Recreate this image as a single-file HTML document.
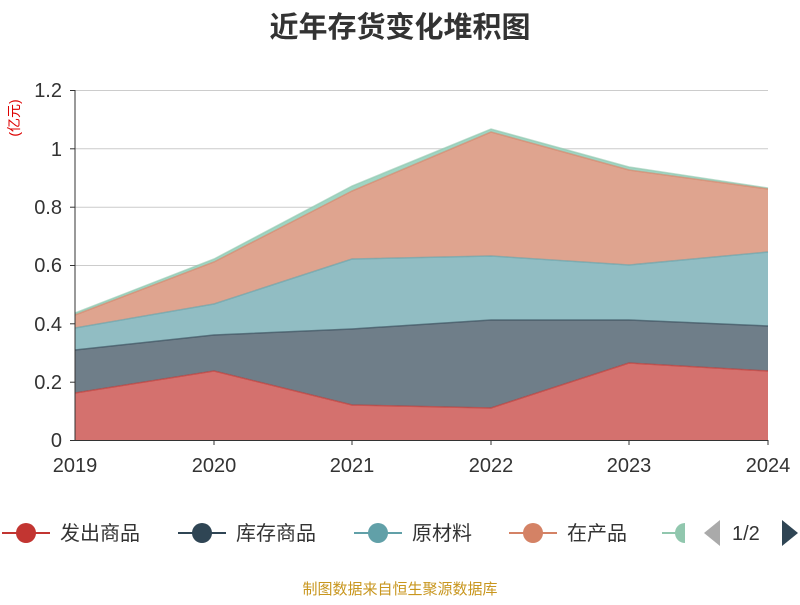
<!DOCTYPE html>
<html><head><meta charset="utf-8"><style>
body{margin:0;background:#fff;}
svg text{font-family:"Liberation Sans","Noto Sans CJK SC",sans-serif;}
</style></head><body>
<svg width="800" height="600" viewBox="0 0 800 600" xmlns="http://www.w3.org/2000/svg">
<rect width="800" height="600" fill="#fff"/>
<text x="400" y="37" text-anchor="middle" font-size="29" font-weight="bold" fill="#333">近年存货变化堆积图</text>
<text x="19" y="118" font-size="14" fill="#d00" text-anchor="middle" transform="rotate(-90 19 118)">(亿元)</text>
<g stroke="#ccc" stroke-width="1">
<line x1="75" y1="90.5" x2="768" y2="90.5"/><line x1="75" y1="148.8" x2="768" y2="148.8"/>
<line x1="75" y1="207.2" x2="768" y2="207.2"/><line x1="75" y1="265.5" x2="768" y2="265.5"/>
<line x1="75" y1="323.8" x2="768" y2="323.8"/><line x1="75" y1="382.2" x2="768" y2="382.2"/>
</g>
<polygon fill="#9fd5c3" points="75,313 214,259 352,186 491,129 629,167 768,188 768,189 629,170 491,132 352,191 214,262 75,315"/>
<polygon fill="#dfa48f" points="75,315 214,262 352,191 491,132 629,170 768,189 768,252 629,265 491,256 352,259 214,304 75,328"/>
<polygon fill="#91bdc3" points="75,328 214,304 352,259 491,256 629,265 768,252 768,326 629,320 491,320 352,329 214,335 75,350"/>
<polygon fill="#6f7e89" points="75,350 214,335 352,329 491,320 629,320 768,326 768,371 629,363 491,408 352,405 214,371 75,393"/>
<polygon fill="#d4716e" points="75,393 214,371 352,405 491,408 629,363 768,371 768,440 75,440"/>
<g fill="none" stroke-width="1.5" stroke-opacity="0.6">
<polyline stroke="#91c7ae" points="75,313 214,259 352,186 491,129 629,167 768,188"/>
<polyline stroke="#d48265" points="75,315 214,262 352,191 491,132 629,170 768,189"/>
<polyline stroke="#61a0a8" points="75,328 214,304 352,259 491,256 629,265 768,252"/>
<polyline stroke="#2f4554" points="75,350 214,335 352,329 491,320 629,320 768,326"/>
<polyline stroke="#c23531" points="75,393 214,371 352,405 491,408 629,363 768,371"/>
</g>
<line x1="75" y1="90" x2="75" y2="440" stroke="#333"/>
<line x1="75" y1="440.5" x2="768" y2="440.5" stroke="#333"/>
<g stroke="#333"><line x1="70" y1="90.5" x2="75" y2="90.5"/><line x1="70" y1="148.8" x2="75" y2="148.8"/><line x1="70" y1="207.2" x2="75" y2="207.2"/><line x1="70" y1="265.5" x2="75" y2="265.5"/><line x1="70" y1="323.8" x2="75" y2="323.8"/><line x1="70" y1="382.2" x2="75" y2="382.2"/><line x1="70" y1="440.5" x2="75" y2="440.5"/>
<line x1="214" y1="440" x2="214" y2="445"/><line x1="352" y1="440" x2="352" y2="445"/><line x1="491" y1="440" x2="491" y2="445"/><line x1="629" y1="440" x2="629" y2="445"/><line x1="768" y1="440" x2="768" y2="445"/></g>
<g font-size="20" fill="#333" text-anchor="end">
<text x="62" y="97">1.2</text><text x="62" y="156">1</text><text x="62" y="214">0.8</text><text x="62" y="272">0.6</text><text x="62" y="331">0.4</text><text x="62" y="389">0.2</text><text x="62" y="447">0</text></g>
<g font-size="20" fill="#333" text-anchor="middle">
<text x="75" y="472">2019</text><text x="214" y="472">2020</text><text x="352" y="472">2021</text><text x="491" y="472">2022</text><text x="629" y="472">2023</text><text x="768" y="472">2024</text></g>
<g font-size="20" fill="#333">
<line x1="2" y1="533" x2="50" y2="533" stroke="#c23531" stroke-width="2"/><circle cx="26" cy="533" r="10" fill="#c23531"/><text x="60" y="540">发出商品</text>
<line x1="178" y1="533" x2="226" y2="533" stroke="#2f4554" stroke-width="2"/><circle cx="202" cy="533" r="10" fill="#2f4554"/><text x="236" y="540">库存商品</text>
<line x1="354" y1="533" x2="402" y2="533" stroke="#61a0a8" stroke-width="2"/><circle cx="378" cy="533" r="10" fill="#61a0a8"/><text x="412" y="540">原材料</text>
<line x1="509" y1="533" x2="557" y2="533" stroke="#d48265" stroke-width="2"/><circle cx="533" cy="533" r="10" fill="#d48265"/><text x="567" y="540">在产品</text>
<line x1="662" y1="533" x2="685" y2="533" stroke="#91c7ae" stroke-width="2"/><path d="M685,523 A10,10 0 0 0 685,543" fill="#91c7ae"/>
<polygon points="704,533 720,520 720,546" fill="#aaa"/>
<text x="732" y="540">1/2</text>
<polygon points="798,533 782,520 782,546" fill="#2f4554"/>
</g>
<text x="400" y="594" text-anchor="middle" font-size="15" fill="#c8961e">制图数据来自恒生聚源数据库</text>
</svg>
</body></html>
